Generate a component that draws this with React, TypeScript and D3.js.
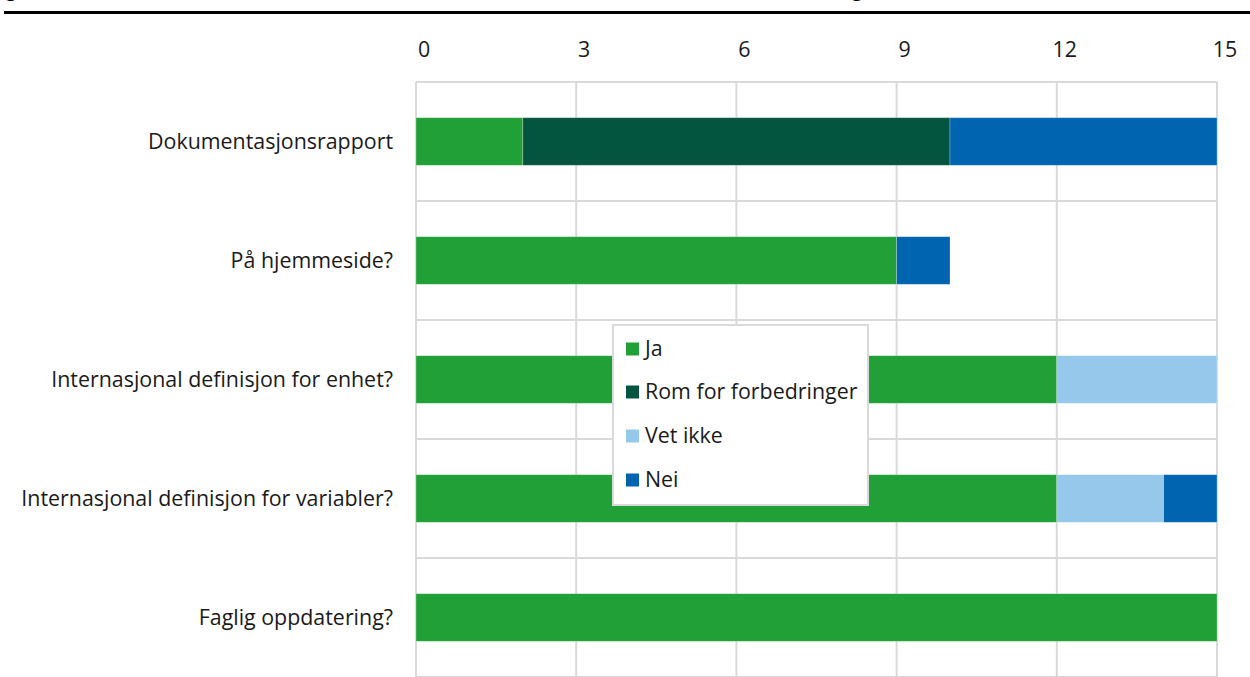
import React from "react";
import * as d3 from "d3";

const categories = [
  "Dokumentasjonsrapport",
  "På hjemmeside?",
  "Internasjonal definisjon for enhet?",
  "Internasjonal definisjon for variabler?",
  "Faglig oppdatering?",
];
const seriesNames = ["Ja", "Rom for forbedringer", "Vet ikke", "Nei"];
const ja = [2, 9, 12, 12, 15];
const rom = [8, 0, 0, 0, 0];
const vetIkke = [0, 0, 3, 2, 0];
const nei = [5, 1, 0, 1, 0];
const tickValues = [0, 3, 6, 9, 12, 15];
const colors = ["#21a038", "#04553f", "#96c8ec", "#0064b0"];

const W = 1250;
const H = 677;
const FONT = "'Open Sans', 'Noto Sans', sans-serif";
const FS = 21.4;

export default function App() {
  const x = d3.scaleLinear().domain([0, 15]).range([416, 1217]);
  const y = d3.scaleBand<string>().domain(categories).range([82, 677]).padding(0);
  const bw = y.bandwidth();
  const barH = bw * 0.4;

  const rows = categories.map((c, i) => ({ cat: c, Ja: ja[i], Rom: rom[i], Vet: vetIkke[i], Nei: nei[i] }));
  const stack = d3.stack<any>().keys(["Ja", "Rom", "Vet", "Nei"])(rows);

  const legendX = 613;
  const legendY = 325;
  const legendW = 255;
  const legendH = 180;
  const legendRows = [349, 392, 436, 480];

  return (
    <svg width={W} height={H} style={{ position: "absolute", left: 0, top: 0, background: "#fff" }} fontFamily={FONT}>
      {/* cut-off title descenders */}
      <text x={6} y={-3} fontSize={18} fill="#000" fontWeight="bold">g</text>
      <text x={852} y={-3} fontSize={18} fill="#000" fontWeight="bold">g</text>
      <line x1={4} x2={W} y1={12.5} y2={12.5} stroke="#000" strokeWidth={3} />

      {/* grid */}
      {tickValues.map((t) => (
        <line key={"v" + t} x1={x(t)} x2={x(t)} y1={82} y2={H} stroke="#d9d9d9" strokeWidth={2} />
      ))}
      {categories.map((c) => (
        <line key={"h" + c} x1={x(0)} x2={x(15)} y1={y(c)!} y2={y(c)!} stroke="#d9d9d9" strokeWidth={2} />
      ))}
      <line x1={x(0)} x2={x(15)} y1={H} y2={H} stroke="#d9d9d9" strokeWidth={2} />

      {/* tick labels */}
      {tickValues.map((t) => (
        <text key={"t" + t} x={x(t) + 8} y={50} dy="0.35em" textAnchor="middle" fontSize={FS} fill="#1a1a1a">{t}</text>
      ))}

      {/* bars */}
      {stack.map((s, si) =>
        s.map((d, i) => {
          const w = x(d[1]) - x(d[0]);
          if (w <= 0) return null;
          return (
            <rect
              key={si + "-" + i}
              x={x(d[0])}
              y={y(categories[i])! + (bw - barH) / 2}
              width={w}
              height={barH}
              fill={colors[si]}
              stroke="#ffffff"
              strokeOpacity={0.35}
              strokeWidth={0.75}
            />
          );
        })
      )}

      {/* category labels */}
      {categories.map((c) => (
        <text key={"l" + c} x={393} y={y(c)! + bw / 2} dy="0.35em" textAnchor="end" fontSize={FS} fill="#1a1a1a">{c}</text>
      ))}

      {/* legend */}
      <rect x={legendX} y={legendY} width={legendW} height={legendH} fill="#fff" stroke="#d9d9d9" strokeWidth={2} />
      {seriesNames.map((n, i) => (
        <g key={n}>
          <rect x={626} y={legendRows[i] - 6.5} width={13} height={13} fill={colors[i]} />
          <text x={645} y={legendRows[i]} dy="0.35em" fontSize={FS} fill="#1a1a1a">{n}</text>
        </g>
      ))}
    </svg>
  );
}
